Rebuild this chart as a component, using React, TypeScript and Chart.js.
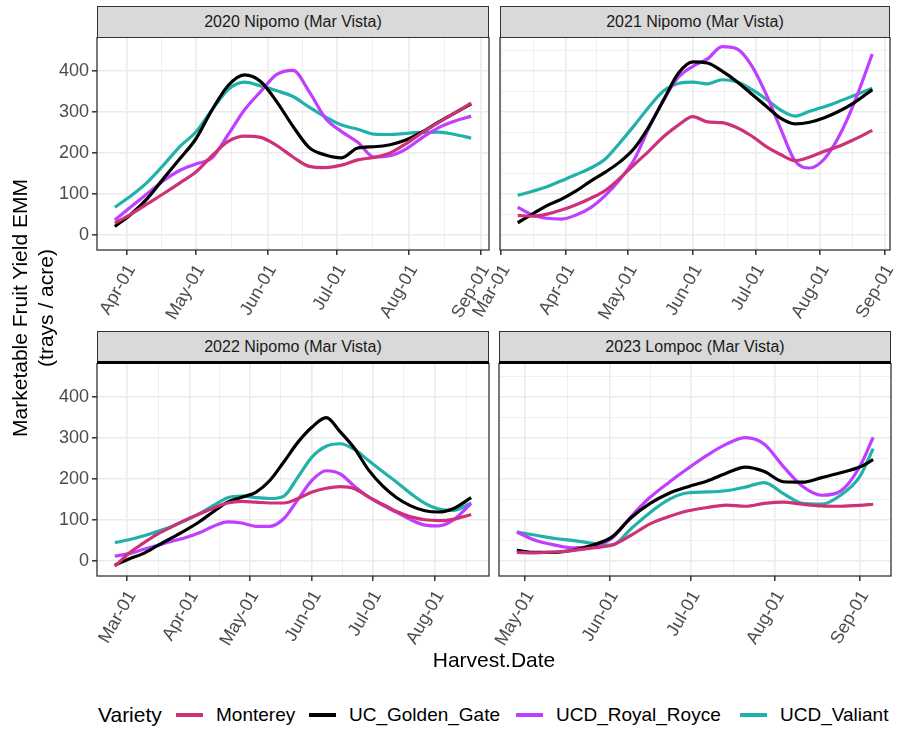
import React, { useEffect, useRef } from "react";
import { Chart, registerables } from "chart.js";
Chart.register(...registerables);

const FONT = "'Liberation Sans', Arial, Helvetica, sans-serif";
Chart.defaults.font.family = FONT;

// ---------- data ----------
const seriesNames = ["Monterey", "UC_Golden_Gate", "UCD_Royal_Royce", "UCD_Valiant"];
const seriesColors = ["#CD3278", "#000000", "#BF3EFF", "#20B2AA"];
const monthAbbr = ["Jan", "Feb", "Mar", "Apr", "May", "Jun", "Jul", "Aug", "Sep", "Oct", "Nov", "Dec"];
const yTicks = [0, 100, 200, 300, 400];

const panelTitles = ["2020 Nipomo (Mar Vista)", "2021 Nipomo (Mar Vista)", "2022 Nipomo (Mar Vista)", "2023 Lompoc (Mar Vista)"];
const panelYears = [2020, 2021, 2022, 2023];

const dates2020 = ["03-27","04-03","04-10","04-17","04-24","05-01","05-08","05-15","05-22","05-29","06-05","06-12","06-19","06-26","07-03","07-10","07-17","07-24","07-31","08-07","08-14","08-21","08-28"];
const monterey2020 = [28,50,75,100,126,153,193,228,241,238,218,190,167,164,170,183,189,200,223,250,275,298,322];
const goldenGate2020 = [20,50,88,137,185,234,305,365,391,375,325,265,213,195,188,212,215,220,232,252,276,298,320];
const royalRoyce2020 = [36,68,100,132,157,173,188,245,305,350,392,402,350,285,252,226,190,193,210,238,262,278,290];
const valiant2020 = [67,95,128,170,215,251,305,355,373,364,352,338,312,288,268,258,246,245,248,250,251,245,236];
const months2020 = [4, 5, 6, 7, 8, 9];

const dates2021 = ["03-09","03-16","03-23","03-30","04-06","04-13","04-20","04-27","05-04","05-11","05-18","05-25","06-01","06-08","06-15","06-22","06-29","07-06","07-13","07-20","07-27","08-03","08-10","08-17","08-26"];
const monterey2021 = [47,45,50,60,73,89,108,138,172,205,240,268,289,276,274,262,242,216,196,181,190,204,216,232,255];
const goldenGate2021 = [29,50,71,87,107,131,153,178,212,265,330,395,423,420,400,375,345,315,285,271,275,286,302,322,355];
const royalRoyce2021 = [67,48,40,38,48,66,96,135,185,262,330,385,412,430,460,455,415,345,260,180,163,185,240,318,442];
const valiant2021 = [96,106,117,132,147,163,185,225,268,313,352,370,373,369,379,374,356,332,305,290,302,313,326,340,358];
const months2021 = [3, 4, 5, 6, 7, 8, 9];

const dates2022 = ["02-23","03-02","03-09","03-16","03-23","03-30","04-06","04-13","04-20","04-27","05-04","05-11","05-18","05-25","06-01","06-08","06-15","06-22","06-29","07-06","07-13","07-20","07-27","08-03","08-10","08-19"];
const monterey2022 = [-14,18,42,64,82,99,114,129,141,145,143,141,141,152,168,177,181,176,156,138,120,107,100,98,101,113];
const goldenGate2022 = [-11,4,17,36,55,74,95,120,143,155,167,196,242,290,327,350,315,275,222,183,154,134,122,119,127,154];
const royalRoyce2022 = [11,17,27,37,47,56,68,84,95,92,84,84,103,150,197,220,212,182,156,136,118,100,87,85,99,140];
const valiant2022 = [44,51,60,71,83,98,115,135,154,158,154,152,158,205,254,280,286,272,245,218,192,164,140,126,123,141];
const months2022 = [3, 4, 5, 6, 7, 8];

const dates2023 = ["04-28","05-05","05-12","05-19","05-26","06-02","06-09","06-16","06-23","06-30","07-07","07-14","07-21","07-28","08-04","08-11","08-18","08-25","09-01","09-06"];
const monterey2023 = [20,19,21,25,31,38,62,90,108,122,130,136,133,140,143,138,134,133,135,138];
const goldenGate2023 = [25,20,20,26,38,58,105,140,165,181,195,214,229,218,193,192,203,215,229,247];
const royalRoyce2023 = [70,49,38,31,36,55,108,155,192,226,258,285,301,285,230,182,160,170,229,302];
const valiant2023 = [70,62,54,49,42,38,78,118,150,166,168,171,180,191,164,140,138,160,205,274];
const months2023 = [5, 6, 7, 8, 9];

// ---------- helpers ----------
const toDay = (year: number, md: string) => {
  const [m, d] = md.split("-").map(Number);
  return Date.UTC(year, m - 1, d) / 86400000;
};

type Rect = { left: number; top: number; width: number; height: number };
type PanelDef = {
  title: string;
  year: number;
  dates: string[];
  series: number[][];
  months: number[];
  rect: Rect;
  showY: boolean;
  stripTop: number;
  stripHeight: number;
  thickStrip: boolean;
};

const panels: PanelDef[] = [
  { title: panelTitles[0], year: panelYears[0], dates: dates2020, series: [monterey2020, goldenGate2020, royalRoyce2020, valiant2020], months: months2020,
    rect: { left: 97, top: 37, width: 392, height: 213 }, showY: true, stripTop: 6, stripHeight: 32, thickStrip: false },
  { title: panelTitles[1], year: panelYears[1], dates: dates2021, series: [monterey2021, goldenGate2021, royalRoyce2021, valiant2021], months: months2021,
    rect: { left: 500, top: 37, width: 390, height: 213 }, showY: false, stripTop: 6, stripHeight: 32, thickStrip: false },
  { title: panelTitles[2], year: panelYears[2], dates: dates2022, series: [monterey2022, goldenGate2022, royalRoyce2022, valiant2022], months: months2022,
    rect: { left: 97, top: 363, width: 392, height: 213 }, showY: true, stripTop: 331, stripHeight: 32, thickStrip: true },
  { title: panelTitles[3], year: panelYears[3], dates: dates2023, series: [monterey2023, goldenGate2023, royalRoyce2023, valiant2023], months: months2023,
    rect: { left: 499, top: 363, width: 392, height: 213 }, showY: false, stripTop: 331, stripHeight: 32, thickStrip: true },
];

const allValues = panels.flatMap((p) => p.series.flat());
const yLo = Math.min(...allValues);
const yHi = Math.max(...allValues);
const Y_MIN = yLo - 0.05 * (yHi - yLo);
const Y_MAX = yHi + 0.05 * (yHi - yLo);

const panelFrame = {
  id: "panelFrame",
  beforeDraw(chart: any) {
    const { ctx, chartArea: a } = chart;
    ctx.save();
    ctx.fillStyle = "#FFFFFF";
    ctx.fillRect(a.left, a.top, a.right - a.left, a.bottom - a.top);
    ctx.restore();
  },
  afterDraw(chart: any) {
    const { ctx, chartArea: a } = chart;
    ctx.save();
    ctx.strokeStyle = "#333333";
    ctx.lineWidth = 1.3;
    ctx.strokeRect(a.left, a.top, a.right - a.left, a.bottom - a.top);
    ctx.restore();
  },
};

const GRID = "#EBEBEB";

function Panel({ def }: { def: PanelDef }) {
  const ref = useRef<HTMLCanvasElement>(null);
  const yw = def.showY ? 47 : 45;
  const padR = 8;
  const xh = 90;
  const cw = yw + def.rect.width + padR;
  const ch = def.rect.height + xh;

  useEffect(() => {
    if (!ref.current) return;
    const xs = def.dates.map((d) => toDay(def.year, d));
    const span = xs[xs.length - 1] - xs[0];
    const xMin = xs[0] - 0.05 * span;
    const xMax = xs[xs.length - 1] + 0.05 * span;
    const majors = def.months.map((m) => Date.UTC(def.year, m - 1, 1) / 86400000);
    const labelMap = new Map<number, string>();
    def.months.forEach((m, i) => labelMap.set(majors[i], monthAbbr[m - 1] + "-01"));
    const ext = [majors[0] - (majors[1] - majors[0]), ...majors, majors[majors.length - 1] + (majors[majors.length - 1] - majors[majors.length - 2])];
    const minors: number[] = [];
    for (let i = 0; i < ext.length - 1; i++) {
      const mid = (ext[i] + ext[i + 1]) / 2;
      if (mid >= xMin && mid <= xMax) minors.push(mid);
    }
    const xAll = [...majors.filter((v) => v >= xMin && v <= xMax), ...minors].sort((a, b) => a - b);
    const majorSet = new Set(majors);

    const yMinors: number[] = [];
    const yExt = [yTicks[0] - 100, ...yTicks, yTicks[yTicks.length - 1] + 100];
    for (let i = 0; i < yExt.length - 1; i++) {
      const mid = (yExt[i] + yExt[i + 1]) / 2;
      if (mid >= Y_MIN && mid <= Y_MAX) yMinors.push(mid);
    }
    const yAll = [...yTicks, ...yMinors].sort((a, b) => a - b);
    const yMajorSet = new Set(yTicks);

    const chart = new Chart(ref.current, {
      type: "line",
      data: {
        datasets: seriesNames.map((name, i) => ({
          label: name,
          data: xs.map((x, j) => ({ x, y: def.series[i][j] })),
          borderColor: seriesColors[i],
          backgroundColor: seriesColors[i],
          borderWidth: 3.2,
          pointRadius: 0,
          cubicInterpolationMode: "monotone" as const,
          fill: false,
        })),
      },
      options: {
        animation: false,
        responsive: false,
        events: [],
        layout: { padding: { left: 0, right: padR, top: 0, bottom: 0 } },
        plugins: { legend: { display: false }, tooltip: { enabled: false } },
        scales: {
          x: {
            type: "linear",
            min: xMin,
            max: xMax,
            afterBuildTicks: (s: any) => {
              s.ticks = xAll.map((v) => ({ value: v }));
            },
            afterFit: (s: any) => {
              s.height = xh;
              s.paddingLeft = 0;
              s.paddingRight = 0;
              s.paddingTop = 0;
              s.paddingBottom = 0;
            },
            border: { display: false },
            grid: {
              color: GRID,
              lineWidth: (c: any) => (majorSet.has(c.tick?.value) ? 1.6 : 0.8),
              tickColor: (c: any) => (majorSet.has(c.tick?.value) ? "#333333" : "rgba(0,0,0,0)"),
              tickLength: 5,
              tickWidth: 1.5,
            },
            ticks: {
              autoSkip: false,
              minRotation: 60,
              maxRotation: 60,
              padding: 6,
              labelOffset: 5,
              color: "#4D4D4D",
              font: { family: FONT, size: 18 },
              callback: (v: any) => labelMap.get(v) ?? "",
            },
          },
          y: {
            type: "linear",
            min: Y_MIN,
            max: Y_MAX,
            afterBuildTicks: (s: any) => {
              s.ticks = yAll.map((v) => ({ value: v }));
            },
            afterFit: (s: any) => {
              s.width = yw;
              s.paddingLeft = 0;
              s.paddingRight = 0;
              s.paddingTop = 0;
              s.paddingBottom = 0;
            },
            border: { display: false },
            grid: {
              color: GRID,
              lineWidth: (c: any) => (yMajorSet.has(c.tick?.value) ? 1.6 : 0.8),
              tickColor: (c: any) => (yMajorSet.has(c.tick?.value) ? "#333333" : "rgba(0,0,0,0)"),
              drawTicks: def.showY,
              tickLength: 5,
              tickWidth: 1.5,
            },
            ticks: {
              display: def.showY,
              padding: 3,
              color: "#4D4D4D",
              font: { family: FONT, size: 18 },
              callback: (v: any) => (yMajorSet.has(v) ? String(v) : ""),
            },
          },
        },
      },
      plugins: [panelFrame],
    } as any);
    return () => chart.destroy();
  }, []);

  return (
    <>
      <canvas
        ref={ref}
        width={cw}
        height={ch}
        style={{ position: "absolute", left: def.rect.left - yw, top: def.rect.top, width: cw, height: ch }}
      />
      <div
        style={{
          position: "absolute",
          left: def.rect.left,
          top: def.stripTop,
          width: def.rect.width,
          height: def.stripHeight,
          boxSizing: "border-box",
          border: "1px solid #333333",
          background: "#D9D9D9",
          display: "flex",
          alignItems: "center",
          justifyContent: "center",
          fontSize: 16,
          color: "#1A1A1A",
          fontFamily: FONT,
        }}
      >
        {def.title}
      </div>
      {def.thickStrip && (
        <div
          style={{
            position: "absolute",
            left: def.rect.left,
            top: def.rect.top - 2,
            width: def.rect.width,
            height: 3,
            background: "#000000",
          }}
        />
      )}
    </>
  );
}

const legendKeyLeft = [176, 309, 516, 740];
const legendTextLeft = [216, 349, 556, 780];

export default function App() {
  return (
    <div style={{ position: "absolute", left: 0, top: 0, width: 898, height: 732, background: "#FFFFFF", fontFamily: FONT, overflow: "hidden" }}>
      {panels.map((p, i) => (
        <Panel key={i} def={p} />
      ))}
      <div
        style={{
          position: "absolute",
          left: 33 - 160,
          top: 308 - 26,
          width: 320,
          height: 52,
          transform: "rotate(-90deg)",
          textAlign: "center",
          fontSize: 21,
          lineHeight: "26px",
          color: "#000000",
          whiteSpace: "nowrap",
        }}
      >
        <div>Marketable Fruit Yield EMM</div>
        <div>(trays / acre)</div>
      </div>
      <div
        style={{
          position: "absolute",
          left: 494 - 100,
          top: 648,
          width: 200,
          textAlign: "center",
          fontSize: 21,
          lineHeight: "24px",
          color: "#000000",
        }}
      >
        Harvest.Date
      </div>
      <div style={{ position: "absolute", left: 98, top: 703, fontSize: 21, lineHeight: "24px", color: "#000000" }}>Variety</div>
      {seriesNames.map((name, i) => (
        <React.Fragment key={name}>
          <div style={{ position: "absolute", left: legendKeyLeft[i], top: 713, width: 27, height: 3.5, background: seriesColors[i] }} />
          <div style={{ position: "absolute", left: legendTextLeft[i], top: 704, fontSize: 19, lineHeight: "22px", color: "#000000", whiteSpace: "nowrap" }}>
            {name}
          </div>
        </React.Fragment>
      ))}
    </div>
  );
}
